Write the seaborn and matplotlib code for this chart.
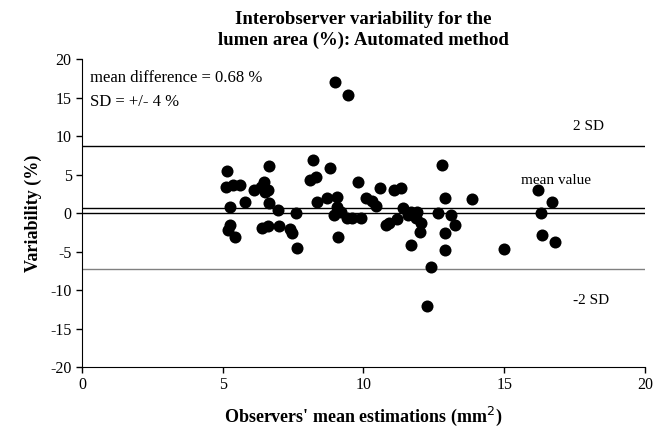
import pandas as pd
import seaborn as sns
import matplotlib.pyplot as plt
import numpy as np

# observers' mean estimation (mm2) and interobserver variability (%)
mean_est = [5.15, 5.1, 5.35, 5.6, 5.25, 5.8, 5.25, 5.2, 5.45,
            6.1, 6.35, 6.45, 6.5, 6.6, 6.65, 6.65, 6.95, 7.6, 6.4, 6.6, 7.0, 7.4, 7.45, 7.65,
            8.2, 8.8, 8.1, 8.3, 8.35, 8.7, 9.05, 9.05, 8.95, 9.2, 9.4, 9.0, 9.45, 9.1,
            9.8, 10.1, 10.3, 10.45, 9.6, 9.9, 10.6, 11.1, 11.35, 10.8, 10.9, 11.2,
            11.4, 11.7, 11.9, 11.85, 12.05, 12.0, 11.7, 12.4, 12.25, 12.65, 11.6,
            12.8, 12.9, 13.1, 13.25, 12.9, 12.9, 13.85, 15.0,
            16.2, 16.7, 16.3, 16.35, 16.8]
variability = [5.5, 3.4, 3.7, 3.6, 0.8, 1.4, -1.6, -2.2, -3.1,
               3.0, 3.4, 4.0, 2.8, 3.0, 6.1, 1.3, 0.4, 0.0, -1.9, -1.7, -1.7, -2.1, -2.6, -4.5,
               6.9, 5.9, 4.3, 4.7, 1.4, 2.0, 2.1, 0.8, -0.3, 0.1, -0.7, 17.0, 15.3, -3.1,
               4.1, 2.0, 1.6, 0.9, -0.7, -0.6, 3.2, 3.0, 3.3, -1.6, -1.3, -0.8,
               0.6, 0.1, 0.1, -0.7, -1.3, -2.5, -4.2, -7.0, -12.1, 0.0, -0.2,
               6.3, 2.0, -0.3, -1.6, -2.6, -4.8, 1.8, -4.7,
               3.0, 1.4, 0.0, -2.9, -3.7]

mean_diff = 0.68
sd = 4.0

df = pd.DataFrame({"x": mean_est, "y": variability})

sns.set_style("ticks")
plt.rcParams['font.family'] = ['Liberation Serif', 'DejaVu Serif']
plt.rcParams['axes.unicode_minus'] = False
plt.rcParams['text.color'] = "black"
plt.rcParams['axes.labelcolor'] = "black"

fig, ax = plt.subplots(figsize=(6.69, 4.38), dpi=100)
fig.subplots_adjust(left=0.1226, right=0.964, top=0.865, bottom=0.162)

ax.axhline(mean_diff + 2 * sd, color="black", lw=1)
ax.axhline(mean_diff, color="black", lw=1)
ax.axhline(0, color="black", lw=1)
ax.axhline(mean_diff - 2 * sd, color="#808080", lw=1)

sns.scatterplot(data=df, x="x", y="y", ax=ax, color="black", s=75,
                edgecolor="black", linewidth=0, zorder=3)

ax.set_xlim(0, 20)
ax.set_ylim(-20, 20)
ax.set_xticks(range(0, 21, 5))
ax.set_yticks(range(-20, 21, 5))
ax.tick_params(direction="out", length=4, width=1, labelsize=11.5, colors="black")
sns.despine(ax=ax)
ax.spines["left"].set_color("black")
ax.spines["bottom"].set_color("black")

ax.set_xlabel("Observers' mean estimations (mm$^2$)", fontsize=13, fontweight="bold", labelpad=8)
ax.set_ylabel("Variability (%)", fontsize=13, fontweight="bold", labelpad=6)
ax.set_title("Interobserver variability for the\nlumen area (%): Automated method",
             fontsize=13.5, fontweight="bold", linespacing=1.3, pad=10)

ax.text(0.3, 17.6, "mean difference = 0.68 %", fontsize=12, va="center")
ax.text(0.3, 14.4, "SD = +/- 4 %", fontsize=12, va="center")
ax.text(17.45, 11.3, "2 SD", fontsize=11, va="center")
ax.text(15.6, 4.2, "mean value", fontsize=11, va="center")
ax.text(17.45, -11.4, "-2 SD", fontsize=11, va="center")

plt.savefig("out.png", dpi=100)
